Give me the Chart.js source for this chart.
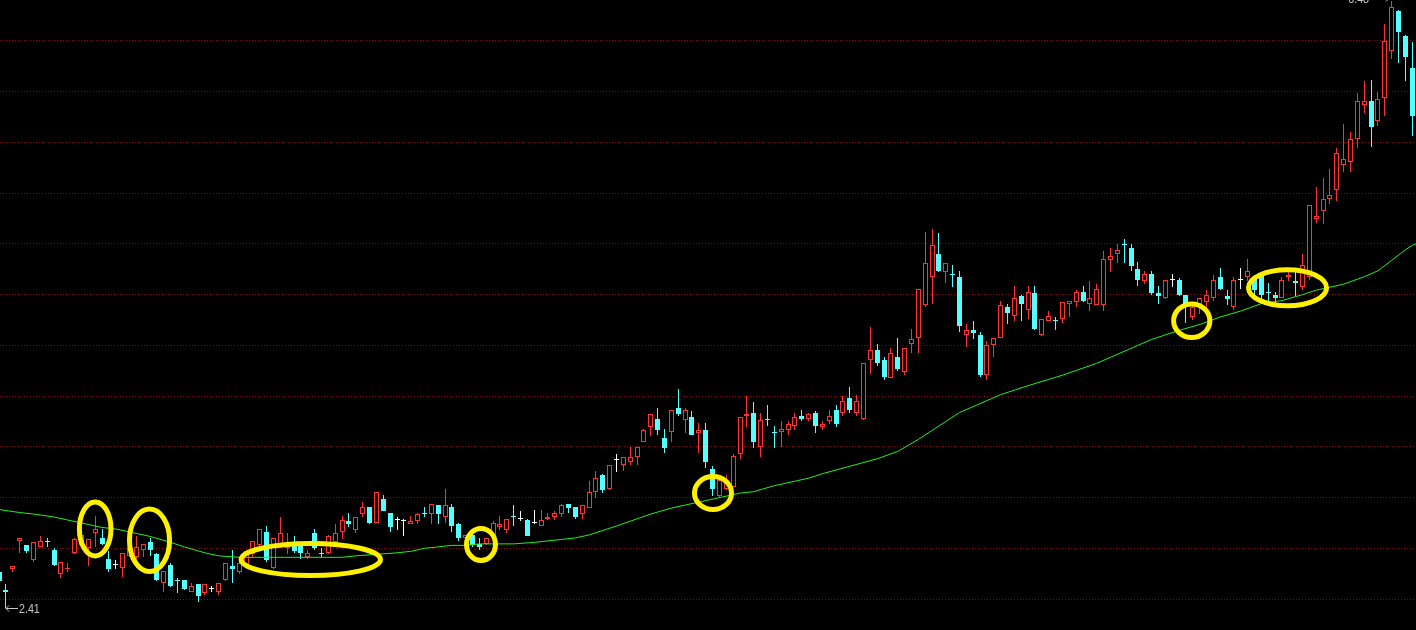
<!DOCTYPE html>
<html><head><meta charset="utf-8">
<script src="https://cdn.jsdelivr.net/npm/chart.js@4.4.1/dist/chart.umd.min.js"></script>
<style>html,body{margin:0;padding:0;background:#000;overflow:hidden}canvas{display:block}</style>
</head><body>
<canvas id="c" width="1416" height="630"></canvas>
<script>
// ---- daily K-line data (price) ----
const opens = [
2.65,2.53,2.67,2.86,2.83,2.73,2.82,2.86,2.80,2.64,
2.67,2.78,2.83,2.81,2.91,2.88,2.74,2.70,2.68,2.76,
2.75,2.80,2.85,2.77,2.58,2.70,2.60,2.60,2.52,2.57,
2.51,2.54,2.52,2.60,2.69,2.65,2.70,2.77,2.83,2.92,
2.68,2.83,2.81,2.83,2.83,2.75,2.91,2.78,2.78,2.85,
2.92,2.99,2.93,3.04,3.09,2.98,3.14,3.05,3.00,2.99,
2.97,2.99,3.05,3.04,3.10,3.02,3.09,2.97,2.88,2.90,
2.84,2.84,2.89,2.95,2.93,3.03,3.01,3.00,2.98,2.96,
3.01,3.02,3.04,3.11,3.09,3.04,3.08,3.19,3.30,3.21,
3.40,3.37,3.39,3.42,3.52,3.62,3.68,3.55,3.59,3.75,
3.67,3.69,3.58,3.60,3.34,3.16,3.21,3.22,3.44,3.70,
3.72,3.49,3.68,3.59,3.59,3.60,3.63,3.70,3.68,3.72,
3.62,3.66,3.74,3.72,3.82,3.72,3.68,4.07,4.14,4.07,
3.95,4.09,3.99,4.18,4.22,4.44,4.63,4.78,4.66,4.65,
4.63,4.24,4.27,4.24,3.97,4.17,4.22,4.43,4.37,4.50,
4.41,4.52,4.24,4.33,4.34,4.35,4.45,4.46,4.53,4.45,
4.44,4.44,4.74,4.78,4.85,4.82,4.68,4.60,4.65,4.52,
4.49,4.61,4.61,4.51,4.36,4.45,4.46,4.49,4.63,4.50,
4.43,4.61,4.63,4.62,4.64,4.53,4.51,4.49,4.63,4.60,
4.56,4.63,5.02,5.07,5.15,5.21,5.38,5.40,5.55,5.78,
5.81,5.67,5.83,6.14,6.41,6.24,6.03];
const highs = [
2.67,2.57,2.69,2.88,2.83,2.85,2.89,2.88,2.81,2.72,
2.71,2.88,2.92,2.87,3.03,2.94,2.79,2.73,2.78,2.83,
2.89,2.84,2.88,2.78,2.66,2.71,2.61,2.60,2.58,2.57,
2.57,2.56,2.58,2.71,2.80,2.73,2.80,2.86,2.94,2.96,
2.88,3.02,2.91,2.89,2.83,2.80,2.94,2.81,2.90,2.97,
3.03,3.05,3.02,3.12,3.09,3.19,3.17,3.05,3.02,3.01,
3.03,3.05,3.09,3.11,3.10,3.21,3.11,2.98,2.90,2.91,
2.88,2.88,2.99,3.03,3.01,3.10,3.06,3.01,3.07,3.07,
3.05,3.06,3.11,3.11,3.09,3.10,3.26,3.33,3.31,3.37,
3.44,3.42,3.49,3.49,3.61,3.71,3.75,3.61,3.74,3.88,
3.75,3.73,3.65,3.65,3.36,3.28,3.30,3.44,3.69,3.83,
3.79,3.72,3.77,3.63,3.66,3.66,3.72,3.74,3.72,3.73,
3.66,3.74,3.77,3.83,3.89,3.84,4.05,4.29,4.18,4.09,
4.15,4.22,4.15,4.28,4.55,4.93,4.95,4.92,4.72,4.71,
4.67,4.31,4.33,4.26,4.20,4.22,4.47,4.45,4.57,4.51,
4.57,4.57,4.35,4.40,4.36,4.46,4.47,4.54,4.57,4.60,
4.58,4.80,4.82,4.85,4.88,4.85,4.73,4.67,4.67,4.57,
4.61,4.65,4.62,4.51,4.44,4.49,4.54,4.64,4.69,4.54,
4.63,4.69,4.75,4.64,4.66,4.59,4.53,4.63,4.66,4.66,
4.78,5.11,5.23,5.29,5.35,5.49,5.65,5.60,5.86,5.94,
5.95,5.87,6.32,6.48,6.42,6.25,6.20];
const lows = [
2.58,2.41,2.65,2.78,2.78,2.72,2.82,2.82,2.69,2.61,
2.65,2.77,2.82,2.69,2.82,2.83,2.65,2.67,2.62,2.75,
2.74,2.75,2.76,2.59,2.52,2.55,2.51,2.53,2.52,2.45,
2.50,2.52,2.50,2.59,2.58,2.64,2.69,2.75,2.81,2.72,
2.67,2.81,2.77,2.78,2.74,2.74,2.80,2.75,2.77,2.84,
2.87,2.95,2.91,3.02,2.97,2.98,3.06,2.92,2.93,2.89,
2.97,2.97,3.02,2.97,2.97,2.98,2.92,2.86,2.87,2.82,
2.80,2.83,2.89,2.93,2.91,2.96,2.99,2.89,2.97,2.96,
3.00,3.00,3.02,3.05,3.01,3.01,3.08,3.15,3.18,3.20,
3.32,3.33,3.37,3.37,3.52,3.56,3.57,3.45,3.52,3.70,
3.58,3.57,3.45,3.35,3.16,3.15,3.20,3.22,3.41,3.62,
3.48,3.42,3.63,3.48,3.49,3.57,3.60,3.66,3.66,3.58,
3.60,3.64,3.62,3.70,3.72,3.70,3.67,3.98,4.03,3.94,
3.95,4.00,3.97,4.12,4.12,4.43,4.45,4.66,4.59,4.56,
4.26,4.16,4.21,3.96,3.94,4.09,4.22,4.31,4.33,4.33,
4.35,4.27,4.23,4.33,4.27,4.32,4.36,4.43,4.46,4.40,
4.44,4.40,4.66,4.72,4.72,4.67,4.57,4.58,4.51,4.45,
4.48,4.56,4.50,4.32,4.34,4.38,4.42,4.47,4.54,4.44,
4.41,4.55,4.60,4.51,4.47,4.45,4.45,4.49,4.60,4.50,
4.54,4.61,4.99,4.98,5.12,5.14,5.33,5.33,5.49,5.73,
5.50,5.64,5.71,6.09,6.06,5.94,5.57];
const closes = [
2.59,2.52,2.69,2.88,2.79,2.85,2.86,2.85,2.70,2.72,
2.68,2.87,2.90,2.87,2.94,2.84,2.67,2.70,2.78,2.81,
2.82,2.84,2.80,2.60,2.66,2.56,2.59,2.54,2.56,2.49,
2.57,2.54,2.58,2.71,2.67,2.71,2.79,2.86,2.94,2.73,
2.88,2.91,2.83,2.79,2.78,2.78,2.81,2.77,2.89,2.91,
3.00,2.97,3.02,3.09,2.98,3.19,3.06,2.95,3.00,2.99,
2.99,3.04,3.04,3.11,3.04,3.10,2.96,2.88,2.90,2.83,
2.82,2.88,2.98,2.97,3.01,3.02,3.01,2.89,2.98,3.00,
3.02,3.05,3.10,3.08,3.02,3.10,3.19,3.28,3.20,3.37,
3.40,3.42,3.42,3.49,3.60,3.71,3.60,3.48,3.74,3.71,
3.74,3.57,3.60,3.39,3.21,3.27,3.27,3.43,3.69,3.71,
3.52,3.67,3.67,3.58,3.61,3.64,3.69,3.68,3.71,3.63,
3.64,3.70,3.64,3.80,3.74,3.80,4.05,4.14,4.05,3.96,
4.12,4.01,4.15,4.21,4.55,4.72,4.84,4.67,4.72,4.64,
4.30,4.27,4.25,3.97,4.17,4.22,4.44,4.39,4.49,4.45,
4.53,4.28,4.35,4.37,4.33,4.46,4.47,4.53,4.47,4.49,
4.55,4.75,4.77,4.81,4.84,4.70,4.61,4.65,4.52,4.50,
4.61,4.61,4.51,4.43,4.43,4.49,4.51,4.61,4.55,4.48,
4.61,4.61,4.67,4.54,4.51,4.52,4.49,4.61,4.64,4.59,
4.71,5.11,5.04,5.15,5.18,5.46,5.42,5.55,5.81,5.81,
5.63,5.82,6.21,6.44,6.27,6.10,5.71];

// moving-average line, read at sampled bars
const maIdx = [0,3,5,8,10,13,15,17,20,22,25,27,30,32,35,40,45,50,52,55,58,60,62,64,66,68,70,75,78,80,82,84,86,88,90,95,98,100,103,105,108,110,113,116,118,120,124,128,131,134,137,140,143,146,150,155,160,165,168,172,175,178,181,184,187,190,192,194,196,199,201,203,205,206,207];
const maVals = [3.07,3.05,3.04,3.02,3.00,2.97,2.95,2.94,2.91,2.89,2.85,2.82,2.78,2.76,2.75,2.75,2.75,2.75,2.76,2.77,2.78,2.79,2.81,2.82,2.83,2.83,2.84,2.84,2.85,2.86,2.87,2.88,2.90,2.93,2.96,3.04,3.08,3.10,3.13,3.15,3.18,3.19,3.23,3.26,3.28,3.31,3.36,3.41,3.46,3.54,3.63,3.72,3.78,3.84,3.90,3.97,4.05,4.15,4.21,4.27,4.31,4.36,4.40,4.45,4.47,4.51,4.54,4.56,4.58,4.63,4.67,4.74,4.81,4.84,4.86];

// horizontal reference levels (dotted grid)
const gridLevels = [6.214,5.874,5.534,5.194,4.854,4.514,4.174,3.834,3.494,3.154,2.814,2.474];

// yellow ring annotations: centre (bar index, price) and radii (bars, price)
const ringIdx   = [14.0, 21.92, 45.43, 70.24, 104.06, 173.85, 187.81];
const ringPrice = [2.94, 2.864, 2.735, 2.836, 3.181, 4.335, 4.556];
const ringRx    = [2.30, 2.92, 10.16, 2.11, 2.70, 2.64, 5.69];
const ringRy    = [0.181, 0.209, 0.107, 0.107, 0.111, 0.112, 0.121];

// ---- styles ----
const UP = '#ff3232', DOWN = '#54ffff', DOJI = '#ffffff', MA = '#1ef01e', GRID = 'rgb(150,0,0)', RING = '#fff000', LABEL = '#c8c8c8';

const n = opens.length;
const idx = opens.map((_, i) => i);
const colorOf = i => closes[i] > opens[i] ? UP : (closes[i] < opens[i] ? DOWN : DOJI);
const bodyData = idx.map(i => ({x: i, y: [opens[i], closes[i]]}));
const wickData = idx.map(i => ({x: i, y: [lows[i], highs[i]]}));
const maData = maIdx.map((x, k) => ({x, y: maVals[k]}));

const bgPlugin = {id: 'bg', beforeDraw(c) {
  const g = c.ctx; g.save(); g.fillStyle = '#000'; g.fillRect(0, 0, c.width, c.height); g.restore();
}};
// snap bar elements to whole device pixels so the K-lines render crisp
const snapPlugin = {id: 'snap', beforeDatasetsDraw(c) {
  c.data.datasets.forEach((ds, di) => {
    const meta = c.getDatasetMeta(di);
    if (meta.type !== 'bar') return;
    meta.data.forEach(el => {
      el.x = Math.floor(el.x) + 0.5;
      el.y = Math.round(el.y);
      el.base = Math.round(el.base);
      if (el.base === el.y) el.base = el.y + 1;
    });
  });
}};
const gridPlugin = {id: 'grid', beforeDatasetsDraw(c) {
  const g = c.ctx, ys = c.scales.y, a = c.chartArea;
  g.save(); g.strokeStyle = GRID; g.lineWidth = 1; g.setLineDash([1, 2]);
  gridLevels.forEach(v => {
    const y = Math.round(ys.getPixelForValue(v)) + 0.5;
    g.beginPath(); g.moveTo(a.left, y); g.lineTo(a.right, y); g.stroke();
  });
  g.restore();
}};
const annotPlugin = {id: 'annot', afterDatasetsDraw(c) {
  const g = c.ctx, xs = c.scales.x, ys = c.scales.y;
  g.save();
  g.strokeStyle = RING; g.lineWidth = 5;
  ringIdx.forEach((ix, k) => {
    const cx = xs.getPixelForValue(ix), cy = ys.getPixelForValue(ringPrice[k]);
    const rx = Math.abs(xs.getPixelForValue(ix + ringRx[k]) - cx);
    const ry = Math.abs(ys.getPixelForValue(ringPrice[k] + ringRy[k]) - cy);
    g.beginPath(); g.ellipse(cx, cy, rx, ry, 0, 0, Math.PI * 2); g.stroke();
  });
  // min / max price markers
  let iMin = 0, iMax = 0;
  for (let i = 0; i < n; i++) { if (lows[i] < lows[iMin]) iMin = i; if (highs[i] > highs[iMax]) iMax = i; }
  g.strokeStyle = LABEL; g.fillStyle = LABEL; g.lineWidth = 1;
  g.font = '13px "Liberation Sans", Arial, sans-serif';
  // min
  let px = Math.floor(xs.getPixelForValue(iMin)), py = Math.round(ys.getPixelForValue(lows[iMin])) + 0.5;
  g.beginPath(); g.moveTo(px + 1, py); g.lineTo(px + 13, py);
  g.moveTo(px + 1, py); g.lineTo(px + 4, py - 3); g.moveTo(px + 1, py); g.lineTo(px + 4, py + 3); g.stroke();
  g.save(); g.translate(px + 14, py + 1); g.scale(0.82, 1); g.textBaseline = 'middle'; g.textAlign = 'left';
  g.fillText(lows[iMin].toFixed(2), 0, 0); g.restore();
  // max
  px = Math.floor(xs.getPixelForValue(iMax)); py = Math.round(ys.getPixelForValue(highs[iMax])) - 2.5;
  g.beginPath(); g.moveTo(px - 20, py); g.lineTo(px - 2, py);
  g.moveTo(px - 2, py); g.lineTo(px - 5, py - 3); g.moveTo(px - 2, py); g.lineTo(px - 5, py + 3); g.stroke();
  g.save(); g.translate(px - 22, py + 0.5); g.scale(0.82, 1); g.textBaseline = 'middle'; g.textAlign = 'right';
  g.fillText(highs[iMax].toFixed(2), 0, 0); g.restore();
  g.restore();
}};

new Chart(document.getElementById('c'), {
  type: 'bar',
  data: {datasets: [
    {type: 'line', data: maData, borderColor: MA, borderWidth: 1, pointRadius: 0, tension: 0, order: 0},
    {type: 'bar', data: bodyData, grouped: false, barThickness: 5, minBarLength: 1, inflateAmount: 0,
     backgroundColor: idx.map(i => colorOf(i) === UP ? '#000000' : colorOf(i)),
     borderColor: idx.map(colorOf), borderWidth: 1, borderSkipped: false, order: 1},
    {type: 'bar', data: wickData, grouped: false, barThickness: 1, inflateAmount: 0,
     backgroundColor: idx.map(colorOf), borderWidth: 0, order: 2}
  ]},
  options: {
    responsive: false, animation: false, devicePixelRatio: 1,
    layout: {padding: 0},
    plugins: {legend: {display: false}, tooltip: {enabled: false}},
    scales: {
      x: {type: 'linear', min: 0.1254, max: 206.54, offset: false, display: false},
      y: {type: 'linear', min: 2.263, max: 6.484, display: false}
    }
  },
  plugins: [bgPlugin, gridPlugin, snapPlugin, annotPlugin]
});
</script>
</body></html>
